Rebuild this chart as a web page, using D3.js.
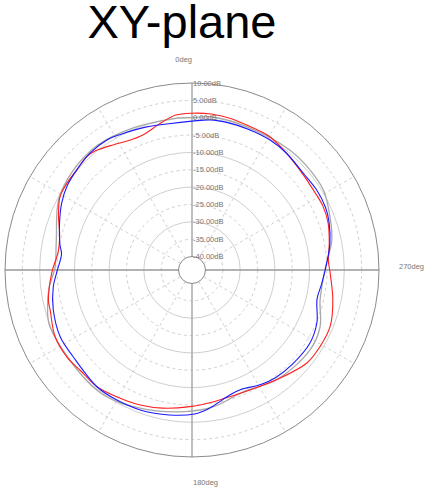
<!DOCTYPE html>
<html>
<head>
<meta charset="utf-8">
<script src="https://cdn.jsdelivr.net/npm/d3@7"></script>
<style>
  body { margin: 0; background: #fff; }
  text { font-family: "Liberation Sans", Arial, sans-serif; }
</style>
</head>
<body>
<div id="chart"></div>
<script>
// angles in degrees, counter-clockwise from 0deg at the top; gains in dB
var redAngles = [0, 6, 12, 20, 26, 32, 39, 43, 49, 55, 61, 68, 75, 82, 91, 102, 106, 116, 125, 132, 141, 149, 159, 168, 179, 189, 197, 206, 218, 231, 239, 248, 258, 269, 274, 281, 289, 296, 303, 313, 321, 330, 338, 346, 353];
var redDb = [1.3, 1.0, -0.6, -2.5, -2.4, -1.3, 0.3, 0.7, 0.1, 0.0, -0.4, -2.4, -4.4, -5.0, -3.5, -1.6, -1.4, 0.0, 0.0, -0.6, -0.5, -1.4, -2.2, -3.2, -4.5, -5.4, -5.8, -5.5, -3.9, -1.3, -0.9, -0.9, -2.4, -4.1, -4.5, -3.6, -2.4, -1.9, -2.0, -1.5, -0.6, 0.6, 0.7, 1.2, 1.4];

var blueAngles = [0, 9, 18, 27, 33, 41, 49, 56, 63, 71, 79, 83, 91, 97, 106, 117, 126, 141, 150, 160, 171, 181, 187, 197, 202, 211, 218, 227, 238, 247, 257, 264, 273, 281, 289, 295, 303, 311, 321, 329, 338, 346, 353];
var blueDb = [-1.0, -1.2, -0.6, 0.2, 0.9, 0.8, 0.1, -0.5, -1.7, -3.5, -5.1, -6.0, -4.9, -3.6, -2.3, -1.3, -1.5, -0.5, -0.6, -0.9, -1.6, -2.4, -3.7, -6.3, -6.7, -5.4, -4.6, -4.2, -3.9, -4.8, -6.9, -6.3, -5.0, -3.4, -2.1, -1.4, -1.2, -1.4, -0.6, -0.2, -0.2, -0.2, -0.3];

var grayAngles = [0, 5, 24, 37, 50, 62, 78, 89, 97, 104, 112, 142, 159, 177, 189, 203, 218, 236, 246, 257, 270, 282, 291, 301, 310, 321, 338, 353];
var grayDb = [0.0, 0.1, 0.5, 1.2, 0.8, -0.4, -3.9, -4.4, -2.4, -1.0, 0.2, 0.3, -1.3, -3.0, -4.0, -5.8, -3.9, -2.8, -3.5, -6.0, -5.6, -2.7, -1.3, 0.4, 0.7, 0.7, 0.3, 0.6];

var ringValues = [5, 0, -5, -10, -15, -20, -25, -30, -35];
var tickValues = [10, 5, 0, -5, -10, -15, -20, -25, -30, -35, -40];
var spokeAngles = [30, 60, 120, 150, 210, 240, 300, 330];

var width = 426, height = 489;
var cx = 192, cy = 270;

var svg = d3.select("#chart").append("svg")
    .attr("width", width)
    .attr("height", height);

// radial scale: -40 dB at the small centre circle, 10 dB at the outer circle
var r = d3.scaleLinear().domain([-40, 10]).range([13.5, 187]);

var g = svg.append("g")
    .attr("transform", "translate(" + cx + "," + cy + ")");

// title
svg.append("text")
    .attr("x", 182)
    .attr("y", 38)
    .attr("text-anchor", "middle")
    .style("font-size", "47px")
    .style("fill", "#000")
    .text("XY-plane");

// grid rings
g.selectAll("circle.ring")
    .data(ringValues)
    .enter().append("circle")
    .attr("class", "ring")
    .attr("r", function(d) { return r(d); })
    .style("fill", "none")
    .style("stroke", "#cfcfcf")
    .style("stroke-width", 1)
    .style("stroke-dasharray", function(d) { return d % 10 === 0 ? null : "3,3"; });

// dashed spokes
g.selectAll("line.spoke")
    .data(spokeAngles)
    .enter().append("line")
    .attr("class", "spoke")
    .attr("x1", function(d) { return -r(-40) * Math.sin(d * Math.PI / 180); })
    .attr("y1", function(d) { return -r(-40) * Math.cos(d * Math.PI / 180); })
    .attr("x2", function(d) { return -r(10) * Math.sin(d * Math.PI / 180); })
    .attr("y2", function(d) { return -r(10) * Math.cos(d * Math.PI / 180); })
    .style("stroke", "#cfcfcf")
    .style("stroke-dasharray", "3,3");

// main axes
g.append("line")
    .attr("x1", -r(10)).attr("x2", r(10)).attr("y1", 0).attr("y2", 0)
    .style("stroke", "#999").style("stroke-width", 1.5);
g.append("line")
    .attr("y1", -r(10)).attr("y2", r(10)).attr("x1", 0).attr("x2", 0)
    .style("stroke", "#aaa").style("stroke-width", 1.5);

// outer ring
g.append("circle")
    .attr("r", r(10))
    .style("fill", "none")
    .style("stroke", "#8a8a8a")
    .style("stroke-width", 1);

// traces
function toPoints(angles, values) {
    return angles.map(function(a, i) { return {a: a, v: values[i]}; });
}

var radial = d3.lineRadial()
    .angle(function(d) { return -d.a * Math.PI / 180; })
    .radius(function(d) { return r(d.v); })
    .curve(d3.curveCatmullRomClosed);

var series = [
    {pts: toPoints(grayAngles, grayDb), color: "#a8a8a8", w: 1.3},
    {pts: toPoints(redAngles, redDb), color: "#ff2020", w: 1.1},
    {pts: toPoints(blueAngles, blueDb), color: "#1a1aff", w: 1.1}
];

g.selectAll("path.trace")
    .data(series)
    .enter().append("path")
    .attr("class", "trace")
    .attr("d", function(d) { return radial(d.pts); })
    .style("fill", "none")
    .style("stroke", function(d) { return d.color; })
    .style("stroke-width", function(d) { return d.w; });

// centre circle
g.append("circle")
    .attr("r", r(-40))
    .style("fill", "#fff")
    .style("stroke", "#888")
    .style("stroke-width", 1);

// dB tick labels along the vertical axis
g.selectAll("text.tick")
    .data(tickValues)
    .enter().append("text")
    .attr("class", "tick")
    .attr("x", 1)
    .attr("y", function(d) { return -r(d); })
    .attr("dy", "0.35em")
    .style("font-size", "7.5px")
    .style("fill", "#777")
    .text(function(d) { return d.toFixed(2) + "dB"; });

// angle labels
g.append("text")
    .attr("x", 0).attr("y", -208)
    .attr("text-anchor", "end")
    .style("font-size", "7.5px").style("fill", "#777")
    .text("0deg");
g.append("text")
    .attr("x", r(10) + 20).attr("y", -1)
    .style("font-size", "7.5px").style("fill", "#777")
    .text("270deg");
g.append("text")
    .attr("x", 1).attr("y", 215)
    .style("font-size", "7.5px").style("fill", "#777")
    .text("180deg");
</script>
</body>
</html>
